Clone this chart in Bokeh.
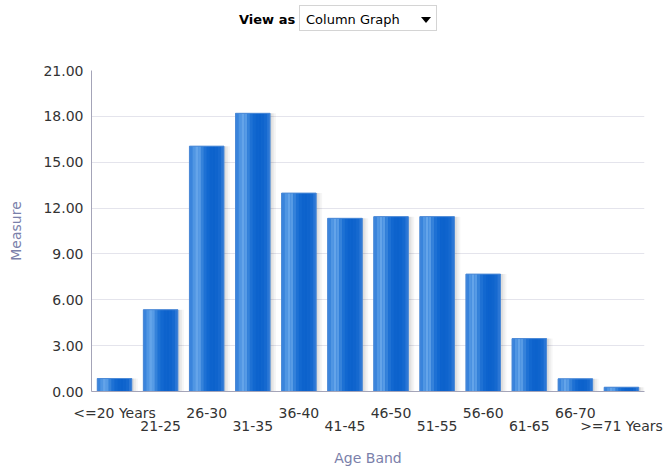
from bokeh.plotting import figure
from bokeh.models import (Range1d, LinearAxis, FixedTicker,
                          NumeralTickFormatter, Div, ColumnDataSource)
from bokeh.transform import dodge
from bokeh.layouts import column
from bokeh.embed import file_html
from bokeh.resources import INLINE

# ---- data ----
categories = ["<=20 Years", "21-25", "26-30", "31-35", "36-40", "41-45",
              "46-50", "51-55", "56-60", "61-65", "66-70", ">=71 Years"]
measure = [0.85, 5.35, 16.05, 18.20, 12.98, 11.33, 11.44, 11.44, 7.68, 3.46, 0.83, 0.28]
y_ticks = [0, 3, 6, 9, 12, 15, 18, 21]
x_title = "Age Band"
y_title = "Measure"

idx = list(range(len(categories)))
src = ColumnDataSource(dict(x=idx, cat=categories, val=measure))

FONT = "DejaVu Sans"
TICK_COLOR = "#333333"
TITLE_COLOR = "#7a80aa"
AXIS_COLOR = "#a4a4b8"

p = figure(x_range=Range1d(-0.5, len(categories) - 0.5), y_range=Range1d(0, 21),
           width=663, height=428, output_backend="svg", toolbar_location=None,
           x_axis_location=None, min_border_left=91, min_border_right=19,
           min_border_top=30, min_border_bottom=76)
p.outline_line_color = None
p.background_fill_color = "white"
p.border_fill_color = "white"
for g in p.grid:
    if g.dimension == 0:
        g.visible = False

# y axis
p.yaxis.ticker = FixedTicker(ticks=y_ticks)
p.yaxis.formatter = NumeralTickFormatter(format="0.00")
p.yaxis.minor_tick_line_color = None
p.yaxis.major_tick_line_color = None
p.yaxis.axis_line_color = AXIS_COLOR
p.yaxis.major_label_standoff = 2
p.yaxis.major_label_text_font = FONT
p.yaxis.major_label_text_font_size = "14px"
p.yaxis.major_label_text_color = TICK_COLOR
p.yaxis.axis_label = y_title
p.yaxis.axis_label_text_font = FONT
p.yaxis.axis_label_text_font_size = "14px"
p.yaxis.axis_label_text_font_style = "normal"
p.yaxis.axis_label_text_color = TITLE_COLOR
p.yaxis.axis_label_standoff = 16
p.ygrid.grid_line_color = "#e4e4ec"
p.ygrid.ticker = FixedTicker(ticks=y_ticks)

# two staggered category axes (even / odd categories)
even = idx[0::2]
odd = idx[1::2]
ax1 = LinearAxis(ticker=FixedTicker(ticks=even),
                 major_label_overrides={i: categories[i] for i in even})
ax2 = LinearAxis(ticker=FixedTicker(ticks=odd),
                 major_label_overrides={i: categories[i] for i in odd})
for ax in (ax1, ax2):
    ax.major_tick_line_color = None
    ax.minor_tick_line_color = None
    ax.major_label_text_font = FONT
    ax.major_label_text_font_size = "14px"
    ax.major_label_text_color = TICK_COLOR
ax1.axis_line_color = AXIS_COLOR
ax1.major_label_standoff = 7
ax2.axis_line_color = None
ax2.major_label_standoff = -12
ax2.axis_label = x_title
ax2.axis_label_text_font = FONT
ax2.axis_label_text_font_size = "14px"
ax2.axis_label_text_font_style = "normal"
ax2.axis_label_text_color = TITLE_COLOR
ax2.axis_label_standoff = 13
p.add_layout(ax1, "below")
p.add_layout(ax2, "below")

# soft shadow to the right of each bar
BW = 0.75
for off, a in [(0.13, 0.035), (0.09, 0.045), (0.05, 0.06)]:
    p.vbar(x=dodge("x", off), top="val", bottom=0, width=BW,
           source=src, fill_color="#000000", fill_alpha=a, line_color=None)

# solid base, then vertical strips imitating the glossy gradient
p.vbar(x="x", top="val", bottom=0, width=BW, source=src,
       fill_color="#1a6dd2", line_color=None)
strip_colors = ["#3a84dc", "#5096e3", "#64a4e9", "#579be5", "#3582da",
                "#1e71d4", "#1268d0", "#0d63cd", "#0c62cc", "#0f64cd",
                "#1669cf", "#2a76d5"]
n = len(strip_colors)
sw = BW / n
for i, c in enumerate(strip_colors):
    off = -BW / 2 + sw * (i + 0.5)
    p.vbar(x=dodge("x", off), top="val", bottom=0,
           width=sw, source=src, fill_color=c, line_color=None)
p.vbar(x="x", top="val", bottom=0, width=BW, source=src,
       fill_color=None, line_color="#4d8ad6", line_width=1)

header = Div(width=663, height=40, margin=(0, 0, 0, 0), text=(
    "<div style=\"position:relative;width:663px;height:40px;"
    "font-family:'DejaVu Sans',sans-serif;font-size:13px;color:#000;\">"
    "<span style=\"position:absolute;left:239px;top:11px;font-weight:bold;\">View as</span>"
    "<div style=\"position:absolute;left:299px;top:5px;width:138px;height:26px;"
    "border:1px solid #d4d4d4;box-sizing:border-box;background:#fff;\">"
    "<span style=\"position:absolute;left:6px;top:5px;\">Column Graph</span>"
    "<span style=\"position:absolute;left:121px;top:11px;width:0;height:0;"
    "border-left:5px solid transparent;border-right:5px solid transparent;"
    "border-top:6px solid #000;\"></span>"
    "</div></div>"))

layout = column(header, p, spacing=0)
open("out.html", "w").write(file_html(layout, INLINE))
